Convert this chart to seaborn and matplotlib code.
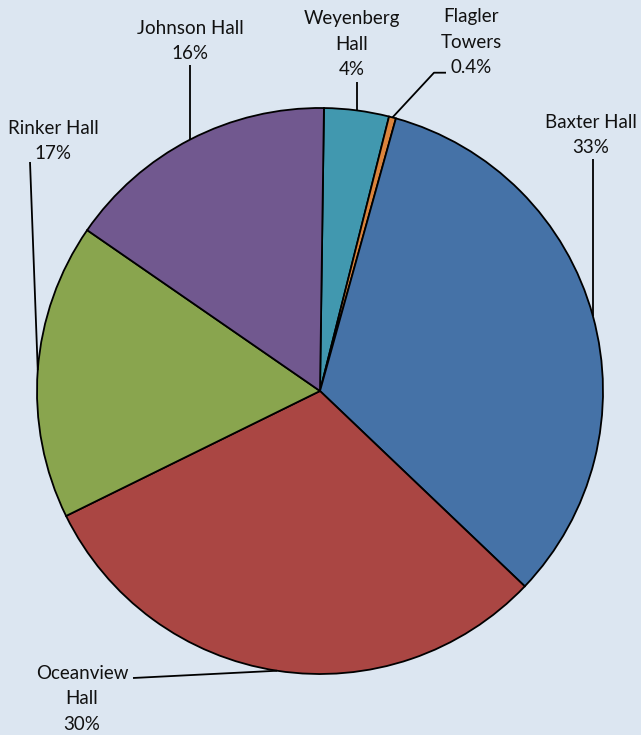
import numpy as np
import matplotlib
matplotlib.use("Agg")
import matplotlib.pyplot as plt
import seaborn as sns

# Данные (доли в процентах, по часовой стрелке от верха)
halls = ["Weyenberg Hall", "Flagler Towers", "Baxter Hall", "Oceanview Hall", "Rinker Hall", "Johnson Hall"]
shares = [3.7, 0.4, 32.8, 30.6, 16.9, 15.6]
pct_labels = ["4%", "0.4%", "33%", "30%", "17%", "16%"]
label_text = ["Weyenberg\nHall", "Flagler\nTowers", "Baxter Hall", "Oceanview\nHall", "Rinker Hall", "Johnson Hall"]
colors = ["#4198AF", "#DB843D", "#4572A7", "#AA4643", "#89A54E", "#71588F"]

W, H = 641, 735
bg = "#dce6f1"

sns.set_theme(style="white")
plt.rcParams["font.family"] = ["Lato", "DejaVu Sans"]

fig = plt.figure(figsize=(W / 100, H / 100), dpi=100, facecolor=bg)
ax = fig.add_axes([0, 0, 1, 1])
ax.set_facecolor(bg)

cx, cy, r = 320, H - 391, 283
wedges, _ = ax.pie(shares, colors=sns.color_palette(colors), startangle=89.2, counterclock=False,
                   center=(cx, cy), radius=r,
                   wedgeprops=dict(edgecolor="black", linewidth=1.3))

ax.set_xlim(0, W)
ax.set_ylim(0, H)
ax.set_aspect("equal")
ax.axis("off")

# Положение подписей (центр текста) и начало выноски, в пикселях картинки
text_pos = [(352, 44), (471, 42), (591, 135), (82, 699), (53, 141), (190, 41)]
leader_start = [[(357, 82)], [(446, 72.7), (434, 72.7)], [(593, 159)],
                [(133, 678)], [(30, 162)], [(190, 65)]]

for w, txt, pct, (tx, ty), pts in zip(wedges, label_text, pct_labels, text_pos, leader_start):
    mid = np.deg2rad((w.theta1 + w.theta2) / 2)
    ex, ey = cx + r * np.cos(mid), cy + r * np.sin(mid)
    xs = [p[0] for p in pts] + [ex]
    ys = [H - p[1] for p in pts] + [ey]
    # вертикальные выноски — ровно по x начала
    if len(pts) == 1 and abs(pts[0][0] - ex) < 4:
        xs[-1] = pts[0][0]
        ys[-1] = cy + np.sqrt(r**2 - (pts[0][0] - cx) ** 2)
    ax.plot(xs, ys, color="black", lw=1.3, solid_capstyle="butt")
    ax.text(tx, H - ty, f"{txt}\n{pct}", ha="center", va="center", fontsize=13.5,
            color="#111111", linespacing=1.6)

fig.savefig("out.png", dpi=100, facecolor=bg)
